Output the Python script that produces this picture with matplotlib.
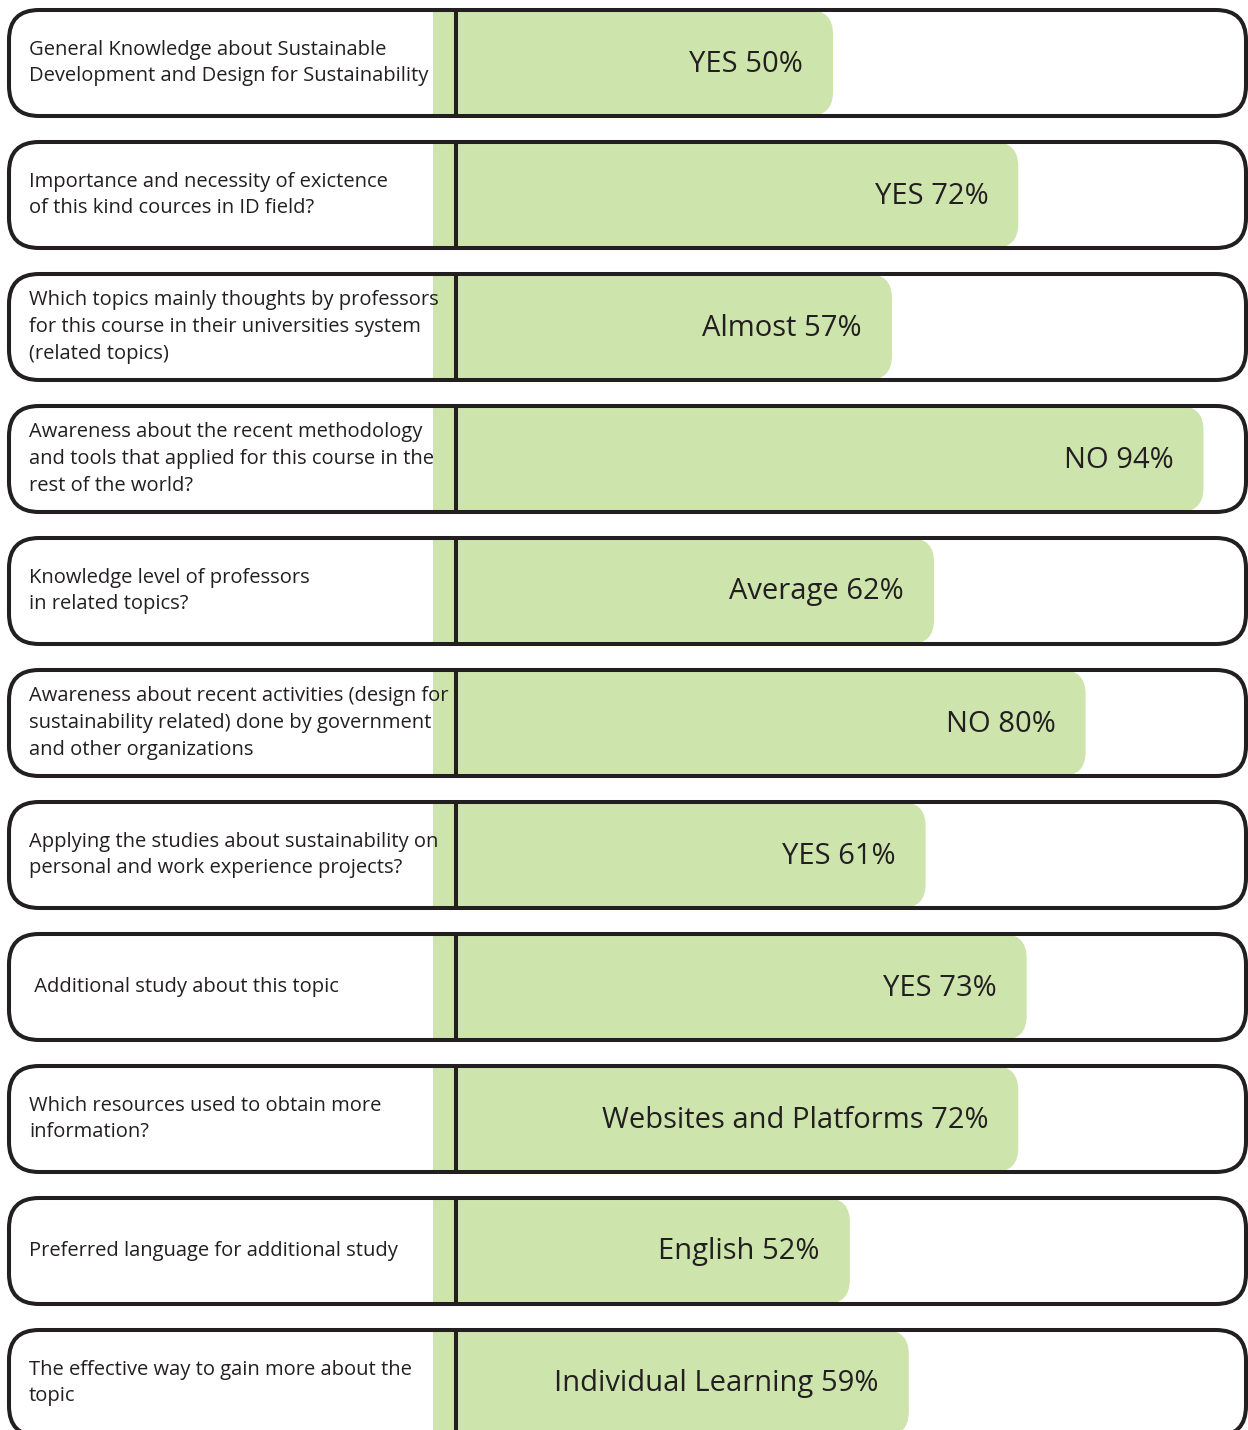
import matplotlib
matplotlib.use("Agg")
from matplotlib import pyplot as plt
from matplotlib.patches import FancyBboxPatch

questions = [
    "General Knowledge about Sustainable\nDevelopment and Design for Sustainability",
    "Importance and necessity of exictence\nof this kind cources in ID field?",
    "Which topics mainly thoughts by professors\nfor this course in their universities system\n(related topics)",
    "Awareness about the recent methodology\nand tools that applied for this course in the\nrest of the world?",
    "Knowledge level of professors\nin related topics?",
    "Awareness about recent activities (design for\nsustainability related) done by government\nand other organizations",
    "Applying the studies about sustainability on\npersonal and work experience projects?",
    " Additional study about this topic",
    "Which resources used to obtain more\ninformation?",
    "Preferred language for additional study",
    "The effective way to gain more about the\ntopic",
]
answers = ["YES", "YES", "Almost", "NO", "Average", "NO", "YES", "YES",
           "Websites and Platforms", "English", "Individual Learning"]
percents = [50, 72, 57, 94, 62, 80, 61, 73, 72, 52, 59]

GREEN = "#cde5ad"
INK = "#231f20"
W, H = 1248, 1430
PX_PER_PCT = 8.42   # horizontal scale: pixels per percent
ZERO_PX = 412       # pixel where 0% would sit


def px2v(px):
    return (px - ZERO_PX) / PX_PER_PCT


plt.rcParams["font.family"] = ["Open Sans", "DejaVu Sans"]

fig = plt.figure(figsize=(W / 100, H / 100), dpi=100)
ax = fig.add_axes([0, 0, 1, 1])
ax.set_xlim(px2v(0), px2v(W))
ax.set_ylim(H, 0)
ax.axis("off")

row_top, row_step, row_h = 10, 132, 106
lw = 2.9
r_box = px2v(30) - px2v(0)
r_bar = px2v(24) - px2v(0)
bar_start = px2v(433)
divider = px2v(456)

for i, (q, a, p) in enumerate(zip(questions, answers, percents)):
    top = row_top + i * row_step
    mid = top + row_h / 2

    # green bar: square on the left, rounded on the right
    ax.barh(mid, p - r_bar - bar_start, left=bar_start, height=row_h,
            color=GREEN, zorder=1, clip_on=False)
    ax.add_patch(FancyBboxPatch((p - 2 * r_bar, top), 2 * r_bar, row_h,
                                boxstyle="round,pad=0,rounding_size=%f" % r_bar,
                                mutation_aspect=PX_PER_PCT,
                                fc=GREEN, ec="none", zorder=1, clip_on=False))

    # outline box; a near-invisible fill stops agg clipping the curves badly
    ax.add_patch(FancyBboxPatch((px2v(9), top), px2v(1246) - px2v(9), row_h,
                                boxstyle="round,pad=0,rounding_size=%f" % r_box,
                                mutation_aspect=PX_PER_PCT,
                                fc=(1, 1, 1, 0.002), ec=INK, lw=lw, zorder=3,
                                clip_on=False))
    ax.plot([divider, divider], [top, top + row_h], color=INK, lw=lw,
            solid_capstyle="butt", zorder=3, clip_on=False)

    ax.text(px2v(29), mid, q, ha="left", va="center", fontsize=14.5,
            color=INK, linespacing=1.45, zorder=4)
    ax.annotate("%s %d%%" % (a, p), xy=(p, mid + 1), xytext=(-21.5, 0),
                textcoords="offset points", ha="right", va="center",
                fontsize=21, color=INK, zorder=4)

fig.savefig("out.png", dpi=100)
